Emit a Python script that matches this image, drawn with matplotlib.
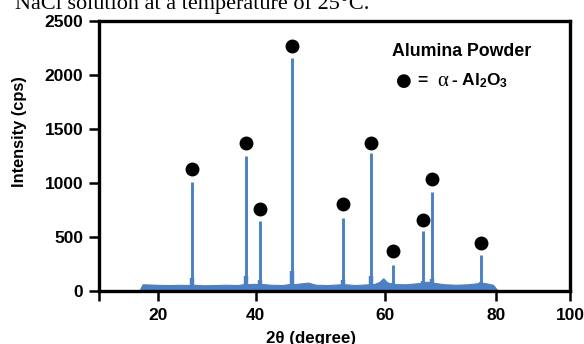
import matplotlib
matplotlib.use("Agg")
import matplotlib.pyplot as plt

plt.rcParams['font.family'] = ['Liberation Sans', 'DejaVu Sans']
plt.rcParams['mathtext.fontset'] = 'custom'
plt.rcParams['mathtext.rm'] = 'Liberation Sans:bold'
plt.rcParams['mathtext.bf'] = 'Liberation Sans:bold'
plt.rcParams['mathtext.it'] = 'Liberation Serif:italic'

# ---- data ----
peak_pos = [25.9, 35.5, 38.1, 43.8, 52.9, 57.8, 61.8, 67.0, 68.7, 77.4]
peak_int = [1007, 1248, 646, 2159, 678, 1280, 245, 554, 915, 329]
dot_int = [1134, 1375, 755, 2273, 807, 1375, 369, 656, 1040, 440]

base_x = [16.6, 17.2, 18.5, 20, 22, 24, 25.5, 26.4, 28, 30, 32, 34, 35.0, 36.0, 37.0,
          38.6, 40, 42, 43.3, 44.3, 46.6, 48, 50, 52.4, 53.4, 55, 57.3, 58.3, 59.3,
          60.0, 60.6, 61.4, 62.2, 64, 66.5, 67.5, 68.2, 69.2, 71, 73, 75, 76.8,
          78.0, 79.5, 80.4]
base_y = [0, 62, 60, 57, 55, 57, 55, 58, 53, 55, 58, 55, 62, 64, 66,
          64, 58, 55, 64, 64, 78, 58, 55, 62, 62, 55, 62, 64, 84,
          118, 84, 66, 64, 62, 74, 84, 86, 74, 62, 58, 62, 72,
          74, 58, 0]

xtick_pos = [9.45, 20, 37.3, 60.3, 80, 93.2]
xtick_lab = ['', '20', '40', '60', '80', '100']
ytick_pos = [0, 500, 1000, 1500, 2000, 2500]

blue = '#4d80c3'

fig = plt.figure(figsize=(5.84, 3.44), dpi=100)
W, H = 584, 344
ax = fig.add_axes([99 / W, 1 - 291 / H, (570 - 99) / W, (291 - 21) / H])

ax.fill_between(base_x, 0, base_y, color=blue, lw=0.8)
ax.vlines(peak_pos, 40, peak_int, color=blue, lw=2.1)
ax.vlines(peak_pos, 40, [v * 0.06 + 60 for v in peak_int], color=blue, lw=3.2)
ax.plot(peak_pos, dot_int, 'o', color='black', ms=9, ls='none')

ax.set_xlim(9.45, 93.2)
ax.set_ylim(0, 2500)
ax.set_xticks(xtick_pos)
ax.set_xticklabels(xtick_lab)
ax.set_yticks(ytick_pos)

for s in ax.spines.values():
    s.set_linewidth(2.4)
ax.tick_params(axis='both', length=7.2, width=1.8, labelsize=12.5, direction='out')
ax.tick_params(axis='x', pad=5)
ax.tick_params(axis='y', pad=4)
for lab in ax.get_xticklabels() + ax.get_yticklabels():
    lab.set_fontweight('bold')

# axis labels
fig.text(20 / W, 1 - 132 / H, 'Intensity (cps)', rotation=90, fontsize=11.8,
         fontweight='bold', ha='center', va='center')
fig.text(311 / W, 1 - 338 / H, '2θ (degree)', fontsize=12.2, fontweight='bold',
         ha='center', va='center', family=['Liberation Sans', 'DejaVu Sans'])

# legend block
fig.text(462 / W, 1 - 51.5 / H, 'Alumina Powder', fontsize=12.8, fontweight='bold',
         ha='center', va='center')
fig.text(404 / W, 1 - 81 / H, '●', fontsize=13, ha='center', va='center',
         family='DejaVu Sans')
fig.text(417 / W, 1 - 81 / H, '=', fontsize=12.5, fontweight='bold', ha='left', va='center')
fig.text(437 / W, 1 - 81 / H, 'α', fontsize=15, family='Liberation Serif',
         ha='left', va='center')
fig.text(451 / W, 1 - 81 / H, r'- Al$_{2}$O$_{3}$', fontsize=12.5, fontweight='bold',
         ha='left', va='center')

# clipped caption text at top
fig.text(15 / W, 1 - 8.5 / H, 'NaCl solution at a temperature of 25°C.', fontsize=16,
         family='Liberation Serif', ha='left', va='baseline')

fig.savefig('out.png', dpi=100)
